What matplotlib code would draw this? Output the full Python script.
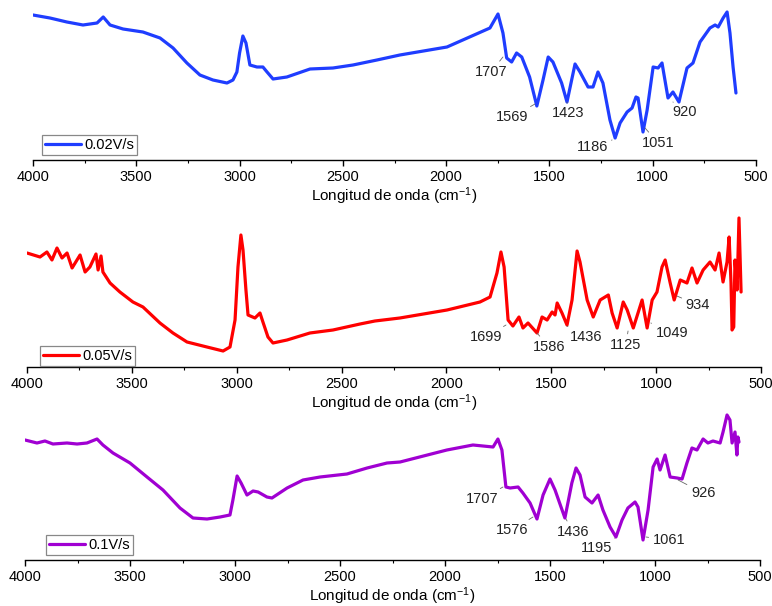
import matplotlib
matplotlib.use("Agg")
from matplotlib import pyplot as plt
from matplotlib.ticker import MultipleLocator

plt.rcParams['font.family'] = ['Liberation Sans', 'DejaVu Sans']
plt.rcParams['mathtext.default'] = 'regular'

# FTIR spectra (wavenumber in cm-1, signal in arbitrary units)
wn_002 = [4000, 3918, 3836, 3758, 3690, 3660, 3627, 3564, 3468, 3385,
          3322, 3255, 3192, 3129, 3061, 3032, 3013, 3000, 2984, 2969,
          2950, 2916, 2887, 2867, 2838, 2771, 2659, 2548, 2451, 2335,
          2224, 1996, 1788, 1749, 1725, 1707, 1683, 1659, 1634, 1596,
          1561, 1531, 1506, 1483, 1441, 1415, 1376, 1352, 1313, 1289,
          1265, 1241, 1207, 1182, 1158, 1124, 1100, 1081, 1071, 1047,
          1027, 998, 974, 955, 926, 902, 873, 834, 805, 771,
          723, 698, 683, 659, 640, 626, 611, 597]
sig_002 = [145, 142, 138, 135, 137, 143, 135, 131, 128, 122,
           112, 97, 85, 80, 77, 80, 88, 107, 124, 117,
           95, 93, 93, 88, 81, 83, 91, 92, 95, 100,
           105, 113, 132, 146, 127, 102, 98, 107, 103, 83,
           54, 80, 103, 98, 77, 58, 96, 88, 73, 73,
           88, 77, 40, 22, 37, 48, 52, 63, 62, 28,
           50, 93, 92, 97, 62, 68, 58, 92, 97, 118,
           132, 135, 133, 142, 148, 127, 93, 67]

wn_005 = [4000, 3938, 3905, 3881, 3857, 3833, 3809, 3785, 3747, 3723,
          3700, 3671, 3661, 3647, 3638, 3604, 3557, 3495, 3447, 3366,
          3304, 3237, 3142, 3065, 3032, 3008, 2994, 2980, 2970, 2956,
          2946, 2913, 2889, 2875, 2851, 2827, 2760, 2651, 2541, 2412,
          2341, 2222, 1997, 1840, 1792, 1759, 1740, 1725, 1706, 1683,
          1654, 1635, 1611, 1568, 1544, 1520, 1496, 1482, 1472, 1449,
          1425, 1401, 1377, 1363, 1329, 1300, 1267, 1228, 1210, 1186,
          1157, 1138, 1109, 1067, 1043, 1019, 996, 972, 957, 933,
          914, 885, 853, 829, 805, 776, 743, 719, 700, 681,
          662, 652, 643, 638, 630, 624, 614, 605, 595]
sig_005 = [114, 110, 115, 107, 119, 109, 114, 99, 112, 95,
           100, 113, 97, 111, 95, 84, 75, 65, 60, 44,
           34, 25, 20, 16, 20, 47, 100, 132, 117, 77,
           52, 49, 54, 45, 30, 24, 27, 34, 37, 43,
           46, 49, 57, 65, 70, 94, 115, 100, 47, 41,
           50, 39, 44, 34, 50, 47, 55, 52, 64, 54,
           42, 67, 116, 105, 67, 50, 67, 72, 54, 39,
           65, 57, 39, 67, 39, 67, 75, 100, 107, 84,
           67, 87, 84, 99, 84, 97, 105, 97, 114, 85,
           105, 130, 84, 37, 40, 107, 77, 149, 75]

wn_01 = [4000, 3943, 3905, 3867, 3800, 3752, 3705, 3657, 3629, 3581,
         3500, 3419, 3343, 3262, 3200, 3133, 3071, 3024, 3010, 2990,
         2971, 2943, 2914, 2890, 2848, 2824, 2752, 2676, 2595, 2467,
         2371, 2276, 2214, 1991, 1867, 1771, 1748, 1729, 1710, 1690,
         1652, 1629, 1595, 1562, 1533, 1500, 1476, 1429, 1396, 1376,
         1357, 1333, 1300, 1271, 1248, 1214, 1186, 1157, 1129, 1095,
         1081, 1057, 1033, 1009, 990, 976, 952, 928, 895, 871,
         848, 824, 800, 771, 748, 724, 690, 676, 657, 643,
         633, 619, 610, 605, 600]
sig_01 = [120, 117, 119, 116, 117, 116, 117, 121, 115, 107,
          97, 83, 70, 52, 42, 41, 43, 45, 60, 84,
          77, 65, 69, 68, 63, 62, 72, 80, 83, 86,
          92, 97, 98, 110, 115, 113, 121, 110, 73, 72,
          73, 67, 57, 41, 65, 81, 70, 42, 77, 92,
          85, 63, 57, 65, 50, 33, 23, 40, 52, 58,
          53, 20, 50, 93, 101, 90, 105, 83, 82, 81,
          97, 112, 110, 121, 117, 119, 117, 128, 145, 140,
          117, 128, 105, 123, 118]

# peak labels: text, (curve point), (text position)
labels_002 = [("1707", (1725, 103), (1783, 88)),
              ("1569", (1570, 56), (1681, 43)),
              ("1423", (1415, 58), (1410, 47)),
              ("1186", (1197, 20), (1289, 13)),
              ("1051", (1037, 32), (974, 17)),
              ("920", (902, 58), (844, 48))]
labels_005 = [("1699", (1716, 42), (1811, 30)),
              ("1586", (1568, 34), (1511, 20)),
              ("1436", (1425, 41), (1335, 30)),
              ("1125", (1134, 36), (1144, 22)),
              ("1049", (1025, 44), (925, 34)),
              ("934", (901, 71), (801, 62))]
labels_01 = [("1707", (1724, 73), (1824, 61)),
             ("1576", (1581, 43), (1681, 30)),
             ("1436", (1424, 41), (1390, 28)),
             ("1195", (1190, 22), (1276, 12)),
             ("1061", (1043, 23), (933, 20)),
             ("926", (890, 80), (771, 67))]

W, H = 772, 606
fig = plt.figure(figsize=(W / 100, H / 100), dpi=100)

# (left px, right px, bottom px, top px, ymax), (legend x px, legend bottom px)
panels = [
    (wn_002, sig_002, '#1f3dff', '0.02V/s', labels_002, (33, 756, 160, 5, 155), (42, 155)),
    (wn_005, sig_005, '#ff0000', '0.05V/s', labels_005, (27, 761, 367, 207, 160), (40, 366)),
    (wn_01, sig_01, '#a000d2', '0.1V/s', labels_01, (25, 760, 560, 405, 155), (46, 555)),
]

for wn, sig, color, name, labels, box, leg in panels:
    l, r, b, t, ymax = box
    ax = fig.add_axes([l / W, 1 - b / H, (r - l) / W, (b - t) / H])
    ax.plot(wn, sig, color=color, lw=2.3, label=name,
            solid_joinstyle='round', solid_capstyle='round')
    ax.set_xlim(4000, 500)
    ax.set_ylim(0, ymax)
    for s in ['left', 'right', 'top']:
        ax.spines[s].set_visible(False)
    ax.spines['bottom'].set_linewidth(1.0)
    ax.set_yticks([])
    ax.xaxis.set_major_locator(MultipleLocator(500))
    ax.xaxis.set_minor_locator(MultipleLocator(250))
    ax.tick_params(axis='x', which='major', direction='out', length=4, width=1.0,
                   labelsize=10.5, pad=3)
    ax.tick_params(axis='x', which='minor', direction='out', length=2.5, width=0.8)
    ax.set_xlabel('Longitud de onda (cm$^{-1}$)', fontsize=11, labelpad=1)
    ax.patch.set_alpha(0)

    for txt, xy, xyt in labels:
        ax.annotate(txt, xy=xy, xytext=xyt, ha='center', va='center',
                    fontsize=10.5, color='#222222',
                    arrowprops=dict(arrowstyle='-', color='#666666', lw=0.6,
                                    shrinkA=1, shrinkB=0))

    lx, lb = leg
    lg = ax.legend(loc='lower left',
                   bbox_to_anchor=((lx - l) / (r - l), (b - lb) / (b - t)),
                   borderaxespad=0, fontsize=10.5, fancybox=False,
                   handlelength=2.5, handletextpad=0.2, borderpad=0.2,
                   framealpha=1)
    lg.get_frame().set_edgecolor('#888888')
    lg.get_frame().set_linewidth(0.9)

fig.savefig('out.png', dpi=100)
